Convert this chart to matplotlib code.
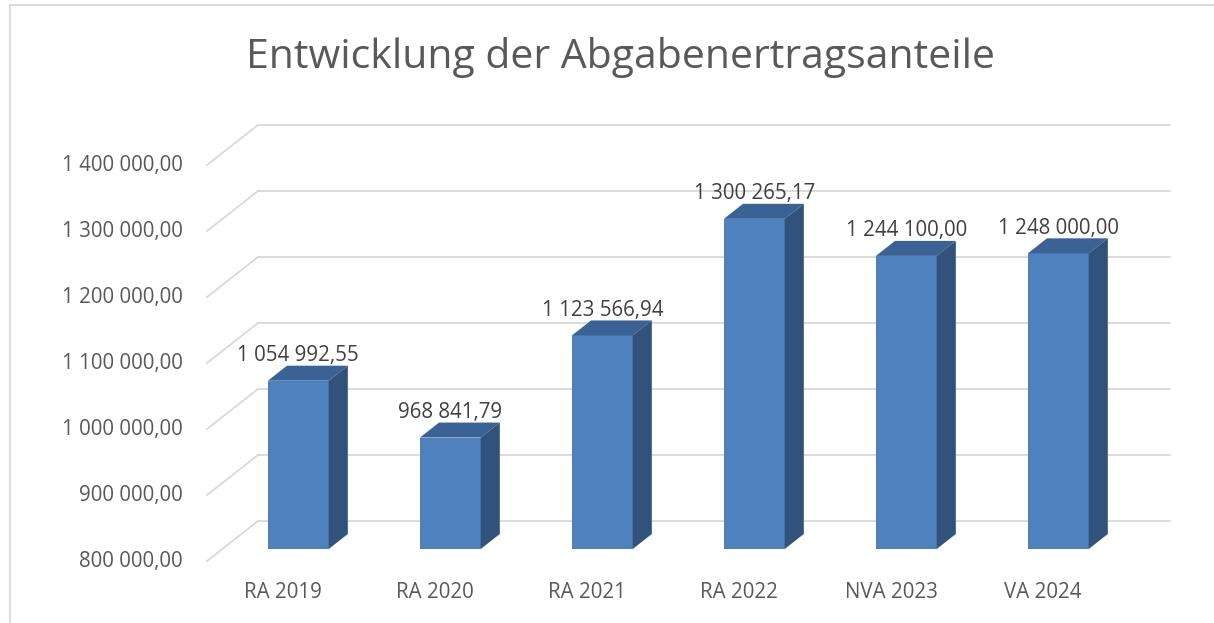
import matplotlib
matplotlib.use("Agg")
import matplotlib.pyplot as plt
from matplotlib.patches import Polygon
from matplotlib.lines import Line2D

categories = ["RA 2019", "RA 2020", "RA 2021", "RA 2022", "NVA 2023", "VA 2024"]
values = [1054992.55, 968841.79, 1123566.94, 1300265.17, 1244100.00, 1248000.00]
ticks = [800000, 900000, 1000000, 1100000, 1200000, 1300000, 1400000]
title = "Entwicklung der Abgabenertragsanteile"

plt.rcParams["font.family"] = ["Open Sans", "DejaVu Sans"]

def fmt(v):
    return f"{v:,.2f}".replace(",", " ").replace(".", ",")

# layout (pixels)
W, H = 1214, 623
px_cat = 152.0          # pixels per category
x0_px = 222.3           # pixel of x = -0.5 on the bar front plane
y_base_px = 549.0       # pixel of 800 000 on the bar front plane
px_per_val = 66.0 / 100000
base = 800000

# 3d depth vector (full floor depth) in data units
dep_x = 51 / px_cat
dep_y = 40 / px_per_val
front = -0.3            # floor front edge relative to bar front plane
back = 0.7              # back wall
bar_depth = 0.375
bw = 0.4
fs = 14.8

fig = plt.figure(figsize=(W / 100, H / 100), dpi=100)
ax = fig.add_axes([0, 0, 1, 1])
ax.set_xlim(-0.5 - x0_px / px_cat, -0.5 + (W - x0_px) / px_cat)
ax.set_ylim(base - (H - y_base_px) / px_per_val, base + y_base_px / px_per_val)
ax.axis("off")

grid_c = "#d9d9d9"
xl = -0.5 + front * dep_x
xr = len(categories) - 0.5 + back * dep_x
for t in ticks:
    yf = t + front * dep_y
    yb = t + back * dep_y
    ax.plot([xl, -0.5 + back * dep_x], [yf, yb], color=grid_c, lw=1.3, zorder=1)
    ax.plot([-0.5 + back * dep_x, xr], [yb, yb], color=grid_c, lw=1.3, zorder=1)
    ax.text(-0.5 + (183 - x0_px) / px_cat, yf, fmt(t), ha="right", va="center",
            fontsize=fs, color="#595959")

front_c = "#4f81bd"
top_c = "#3b6294"
side_c = "#31527a"
xs = list(range(len(categories)))
ax.bar(xs, [v - base for v in values], bottom=base, width=bw, color=front_c, zorder=3)
ddx = bar_depth * dep_x
ddy = bar_depth * dep_y
for x, v in zip(xs, values):
    l, r = x - bw / 2, x + bw / 2
    ax.add_patch(Polygon([(l, v), (r, v), (r + ddx, v + ddy), (l + ddx, v + ddy)],
                         closed=True, facecolor=top_c, edgecolor="none", zorder=3))
    ax.add_patch(Polygon([(r, base), (r + ddx, base + ddy), (r + ddx, v + ddy), (r, v)],
                         closed=True, facecolor=side_c, edgecolor="none", zorder=3))
    ax.annotate(fmt(v), (x, v), xytext=(0, 25 * 0.72), textcoords="offset points",
                ha="center", va="center", fontsize=fs, color="#404040", zorder=4)

for x, c in zip(xs, categories):
    ax.text(x + front * dep_x, base + front * dep_y - 31 / px_per_val, c,
            ha="center", va="center", fontsize=fs, color="#595959")

fig.text(621 / W, 1 - 57 / H, title, ha="center", va="center", fontsize=29.5,
         color="#595959")

fig.add_artist(Line2D([10 / W, 1], [1 - 5 / H, 1 - 5 / H], color=grid_c, lw=1.3))
fig.add_artist(Line2D([10 / W, 10 / W], [0, 1 - 5 / H], color=grid_c, lw=1.3))

fig.savefig("out.png", dpi=100)
